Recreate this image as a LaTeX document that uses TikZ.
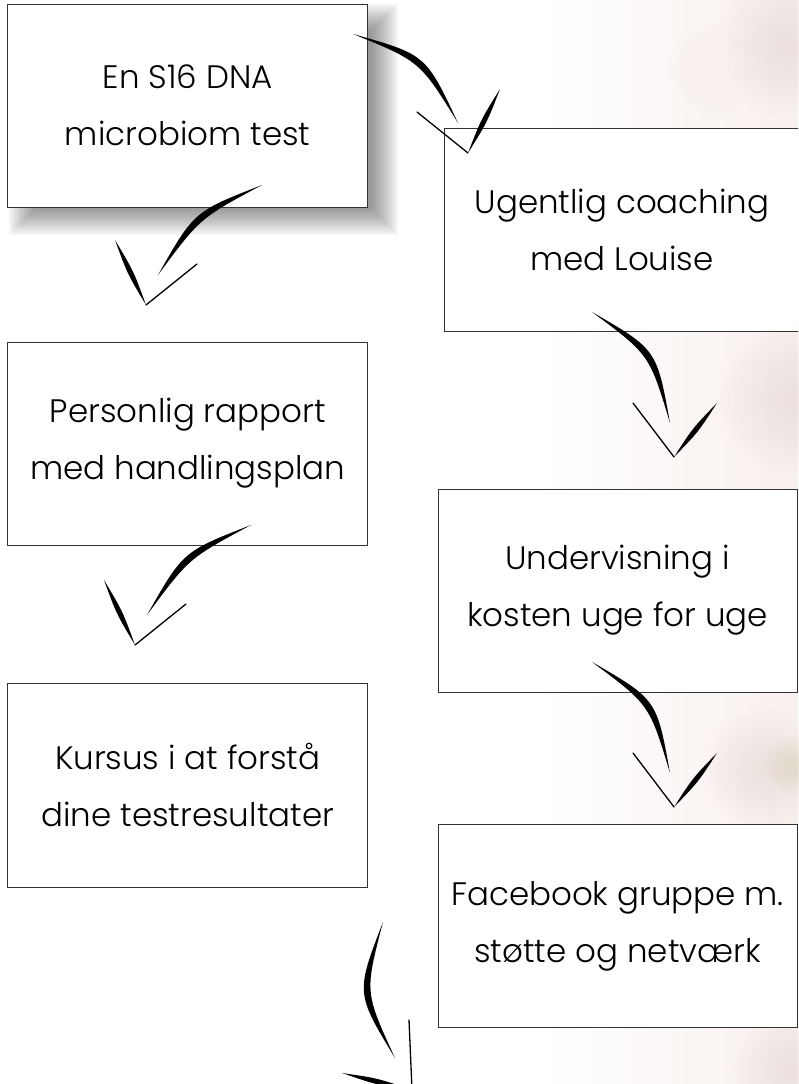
\documentclass[tikz,border=0pt]{standalone}
\usepackage{fontspec}
\setmainfont{Poppins}[UprightFont={* Light}]
\usetikzlibrary{calc, positioning, backgrounds}
\definecolor{boxline}{rgb}{0.2, 0.2, 0.2}
\definecolor{blossom}{rgb}{0.93, 0.85, 0.83}
\definecolor{petal}{rgb}{0.97, 0.94, 0.93}
\definecolor{stem}{rgb}{0.88, 0.86, 0.74}

% tapered brush stroke from #1 to #2, bows #3 and #4 (pt) to the left
\newcommand{\brush}[4]{%
    \fill (#1) .. controls ($(#1)!0.5!(#2)!#3pt!90:(#2)$) .. (#2)
        .. controls ($(#1)!0.5!(#2)!#4pt!90:(#2)$) .. (#1) -- cycle;}
% hand drawn arrow: shaft, thin arm, thick arm
\newcommand{\swoosh}[7]{%
    \brush{#1}{#2}{#3}{#4}
    \draw[line width=1.3pt, line cap=round] (#5) -- (#6);
    \brush{#6}{#7}{3.4}{-3.4}}

\begin{document}
\begin{tikzpicture}[x=1pt, y=-1pt,
        every node/.style={font=\fontsize{32.5}{57}\selectfont},
        card/.style={draw=boxline, line width=0.9pt, fill=white, align=center,
            minimum width=360pt, minimum height=203pt, inner sep=0pt}]
        \useasboundingbox (0,0) rectangle (798,1084);
        \clip (0,0) rectangle (798,1084);

        \node[card] (dna) at (187.75,105.5) {En S16 DNA\\microbiom test};
        \node[card, minimum width=356pt] (coach) at (622,230) {Ugentlig coaching\\med Louise};
        \node[card] (report) at (187.75,443.5) {Personlig rapport\\med handlingsplan};
        \node[card, minimum width=359pt] (diet) at (617.5,590.5) {Undervisning i\\kosten uge for uge};
        \node[card, minimum height=204pt] (course) at (187.75,785) {Kursus i at forstå\\dine testresultater};
        \node[card, minimum width=359pt] (group) at (617.5,926) {Facebook gruppe m.\\støtte og netværk};

        \begin{scope}[on background layer]
            \shade[left color=white, right color=petal] (540,0) rectangle (798,1084);
            \foreach \cx/\cy/\r/\c in {785/45/70/blossom, 715/70/45/petal, 795/400/75/blossom,
                    765/770/60/blossom, 794/765/30/stem, 790/1070/55/blossom}{
                \foreach \i in {1,...,16}
                    \fill[\c, opacity=0.045] (\cx,\cy) circle ({\r*\i/16});
            }
            % shadow under the first box
            \foreach \i in {0,...,13}
                \fill[black, opacity=0.035] ($(dna.north west)+(2+2*\i,2*\i)$)
                    rectangle ($(dna.south east)+(30-2*\i,28-2*\i)$);
        \end{scope}

        % dna -> coach
        \coordinate (s1) at (353,34);  \coordinate (e1) at (458,123);
        \coordinate (l1) at (417,112); \coordinate (t1) at (468,153); \coordinate (r1) at (500,89);
        \swoosh{s1}{e1}{31.5}{22.5}{l1}{t1}{r1}
        % dna -> report
        \coordinate (s2) at (262,185); \coordinate (e2) at (158,275);
        \coordinate (l2) at (197,264); \coordinate (t2) at (146,305); \coordinate (r2) at (115,240);
        \swoosh{s2}{e2}{-15.5}{-24.5}{l2}{t2}{r2}
        % coach -> diet
        \coordinate (s3) at (592,312); \coordinate (e3) at (670,423);
        \coordinate (l3) at (633,403); \coordinate (t3) at (674,457); \coordinate (r3) at (717,403);
        \swoosh{s3}{e3}{31.5}{22.5}{l3}{t3}{r3}
        % report -> course
        \coordinate (s4) at (251,525); \coordinate (e4) at (147,615);
        \coordinate (l4) at (186,604); \coordinate (t4) at (135,645); \coordinate (r4) at (104,580);
        \swoosh{s4}{e4}{-15.5}{-24.5}{l4}{t4}{r4}
        % diet -> group
        \coordinate (s5) at (592,662); \coordinate (e5) at (670,773);
        \coordinate (l5) at (633,753); \coordinate (t5) at (674,807); \coordinate (r5) at (717,753);
        \swoosh{s5}{e5}{31.5}{22.5}{l5}{t5}{r5}
        % group -> out
        \coordinate (s6) at (383,922); \coordinate (e6) at (395,1058);
        \coordinate (l6) at (409,1020); \coordinate (t6) at (412,1090); \coordinate (r6) at (342,1073);
        \swoosh{s6}{e6}{-24.5}{-33.5}{l6}{t6}{r6}
\end{tikzpicture}
\end{document}
